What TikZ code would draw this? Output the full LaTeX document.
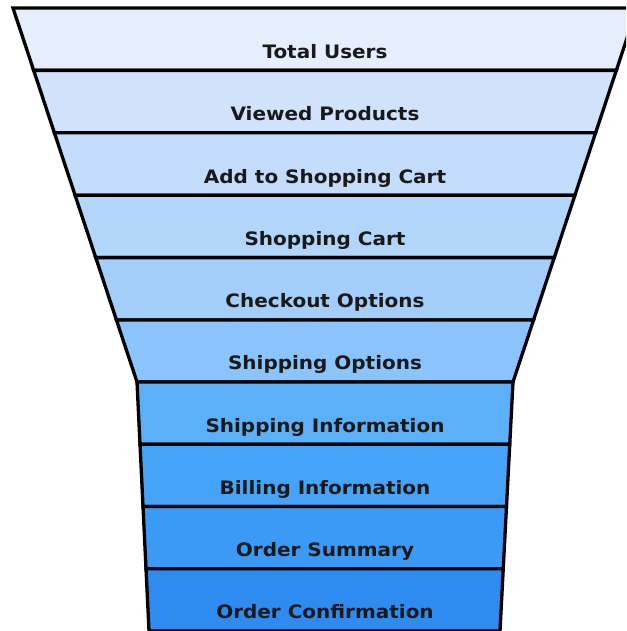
\documentclass[tikz,border=0pt]{standalone}
\usepackage{fontspec}
\usepackage{graphicx}
\newfontfamily\lblfont{DejaVu Sans}
\definecolor{cA}{HTML}{E4EEFC}
\definecolor{cB}{HTML}{D0E3FB}
\definecolor{cC}{HTML}{C3DCFA}
\definecolor{cD}{HTML}{B2D6FA}
\definecolor{cE}{HTML}{A2CEF9}
\definecolor{cF}{HTML}{8AC4FA}
\definecolor{cG}{HTML}{5CB0F8}
\definecolor{cH}{HTML}{46A4F8}
\definecolor{cI}{HTML}{3A9AF5}
\definecolor{cJ}{HTML}{2E8CF0}
\tikzset{
  band/.style={draw=black, line width=3.3pt, line join=miter},
  lbl/.style={anchor=base, inner sep=0pt, font=\lblfont\bfseries\fontsize{18.5}{20}\selectfont, text=black!90}
}
\newcommand{\lab}[1]{\scalebox{1.08}[1]{#1}}
\begin{document}
\begin{tikzpicture}[x=1pt,y=-1pt]
\useasboundingbox (0,0) rectangle (626,631);
\clip (0,0) rectangle (626,631);
\fill[white] (0,0) rectangle (626,631);
\draw[band, fill=cA] (13,8) -- (637,8) -- (616.31,70.4) -- (33.69,70.4) -- cycle;
\draw[band, fill=cB] (33.69,70.4) -- (616.31,70.4) -- (595.62,132.8) -- (54.38,132.8) -- cycle;
\draw[band, fill=cC] (54.38,132.8) -- (595.62,132.8) -- (574.93,195.2) -- (75.07,195.2) -- cycle;
\draw[band, fill=cD] (75.07,195.2) -- (574.93,195.2) -- (554.25,257.6) -- (95.75,257.6) -- cycle;
\draw[band, fill=cE] (95.75,257.6) -- (554.25,257.6) -- (533.56,320) -- (116.44,320) -- cycle;
\draw[band, fill=cF] (116.44,320) -- (533.56,320) -- (513,382) -- (137,382) -- cycle;
\draw[band, fill=cG] (137,382) -- (513,382) -- (509.75,444.25) -- (140,444.25) -- cycle;
\draw[band, fill=cH] (140,444.25) -- (509.75,444.25) -- (506.5,506.5) -- (143,506.5) -- cycle;
\draw[band, fill=cI] (143,506.5) -- (506.5,506.5) -- (503.25,568.75) -- (146,568.75) -- cycle;
\draw[band, fill=cJ] (146,568.75) -- (503.25,568.75) -- (500,631) -- (149,631) -- cycle;
\node[lbl] (t1) at (325,58.2) {\lab{Total Users}};
\node[lbl] (t2) at (325,120.6) {\lab{Viewed Products}};
\node[lbl] (t3) at (325,183) {\lab{Add to Shopping Cart}};
\node[lbl] (t4) at (325,245.4) {\lab{Shopping Cart}};
\node[lbl] (t5) at (325,307.8) {\lab{Checkout Options}};
\node[lbl] (t6) at (325,369.8) {\lab{Shipping Options}};
\node[lbl] (t7) at (325,432) {\lab{Shipping Information}};
\node[lbl] (t8) at (325,494.3) {\lab{Billing Information}};
\node[lbl] (t9) at (325,556.5) {\lab{Order Summary}};
\node[lbl] (t10) at (325,618.8) {\lab{Order Confirmation}};
\end{tikzpicture}
\end{document}
